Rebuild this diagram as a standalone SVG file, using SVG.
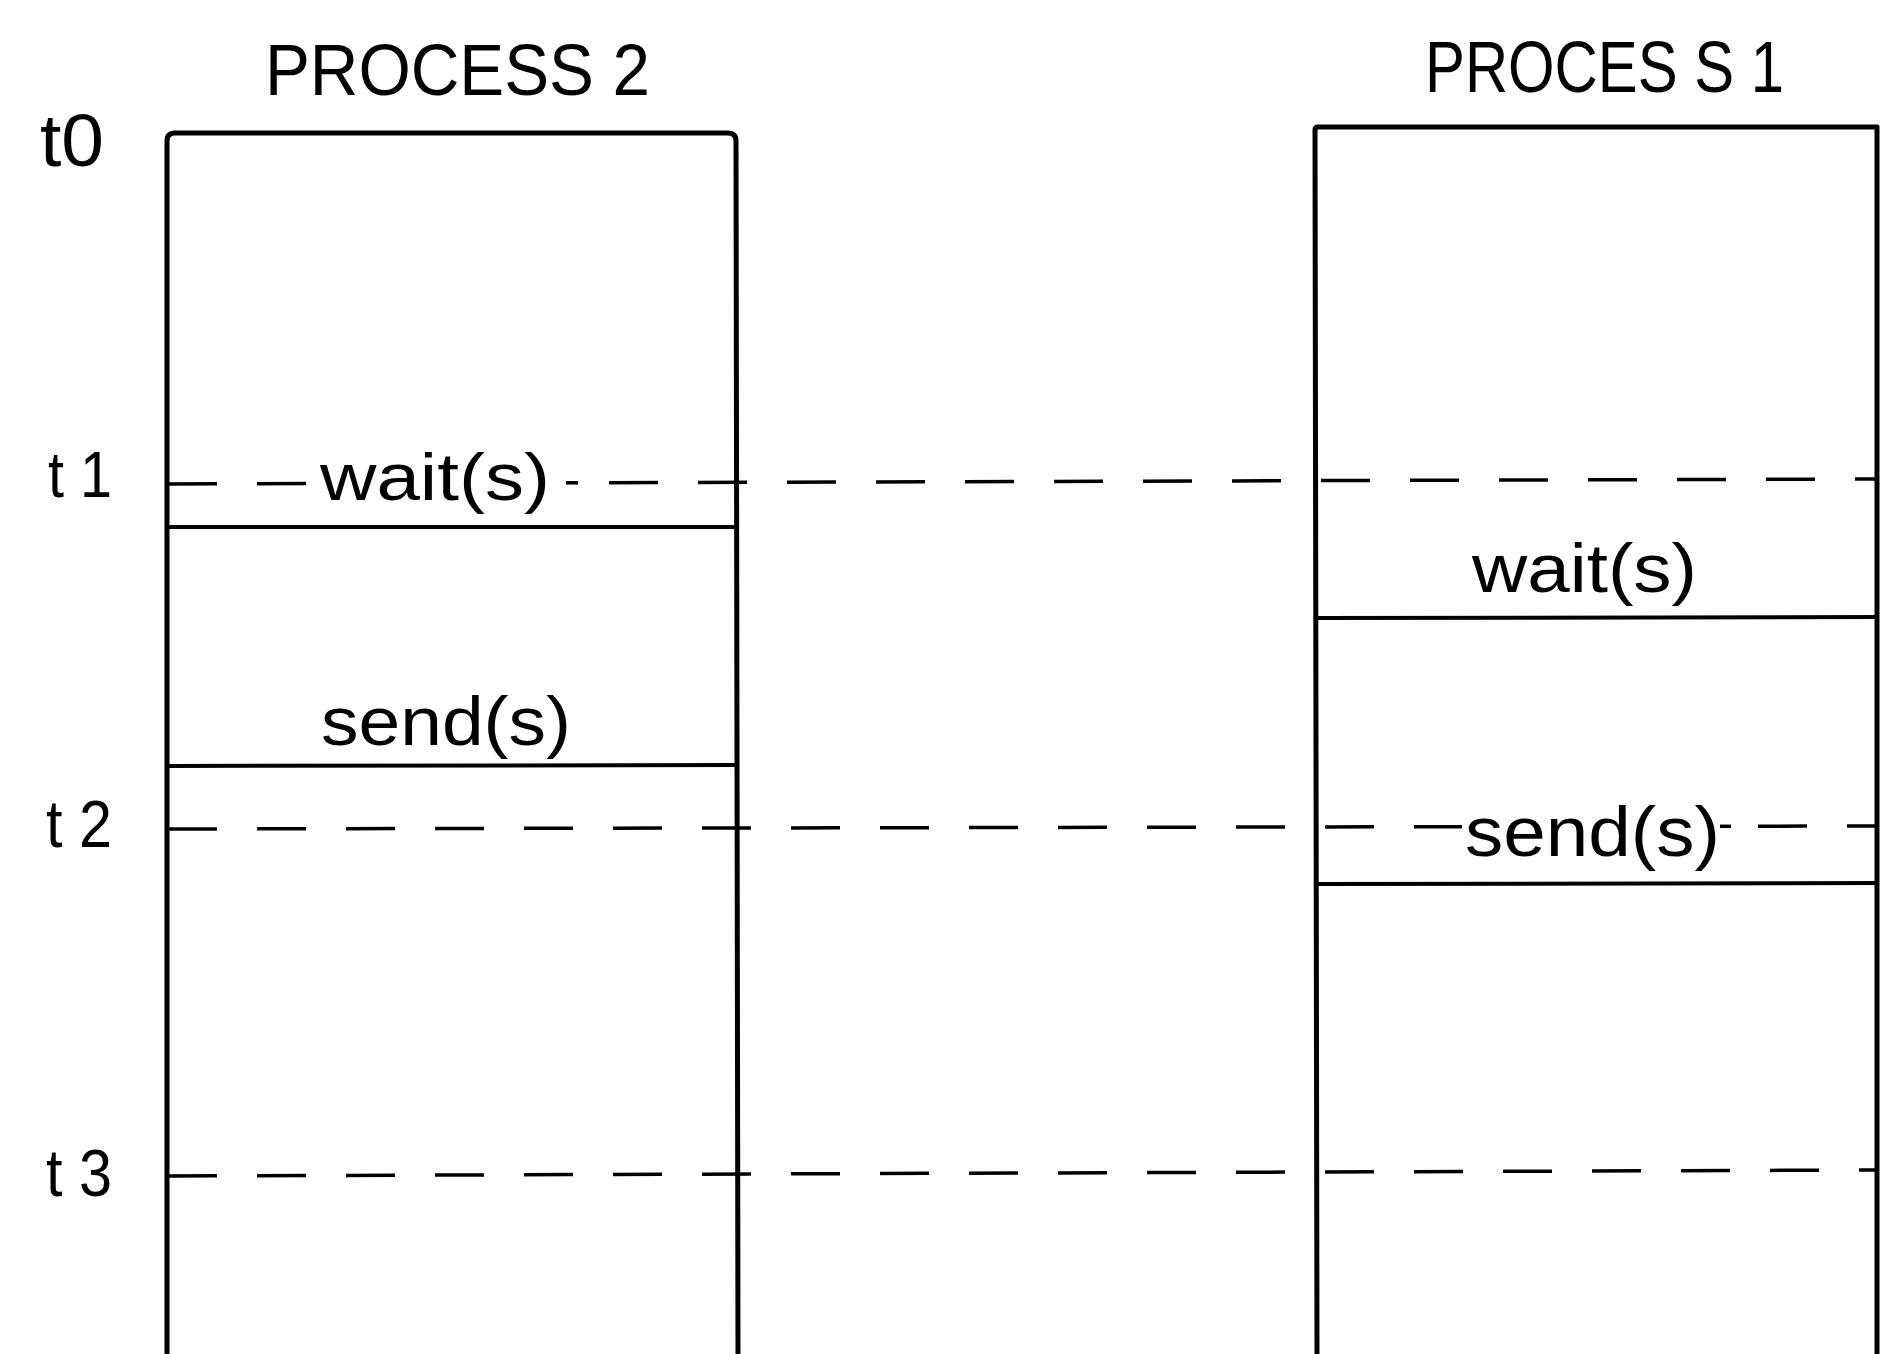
<svg xmlns="http://www.w3.org/2000/svg" width="1880" height="1354" viewBox="0 0 1880 1354">
  <style>
    .box { fill: none; stroke: #000; stroke-width: 5; stroke-linejoin: round; }
    .sep { stroke: #000; stroke-width: 4; fill: none; }
    .dash { stroke: #000; stroke-width: 3.5; fill: none; stroke-dasharray: 49 40; }
    .tick { stroke: #000; stroke-width: 3.5; fill: none; }
    .lbl { font-family: "Liberation Sans", Arial, sans-serif; fill: #000; }
  </style>
  <rect width="1880" height="1354" fill="#fff"/>

  <g id="connectors">
    <path class="dash" d="M168 484 L306 483.6"/>
    <path class="tick" d="M566 482.8 L578 482.8"/>
    <path class="dash" d="M609 482.7 L1878 479"/>
    <path class="dash" d="M168 829 L1462 826.7"/>
    <path class="tick" d="M1720 826.3 L1731 826.3"/>
    <path class="dash" d="M1758 826.2 L1878 826"/>
    <path class="dash" d="M168 1176 L1878 1170"/>
  </g>

  <g id="time-labels">
    <text class="lbl" x="40" y="166" font-size="74" textLength="64" lengthAdjust="spacingAndGlyphs">t0</text>
    <text class="lbl" x="48" y="497" font-size="64" textLength="64" lengthAdjust="spacingAndGlyphs">t 1</text>
    <text class="lbl" x="46" y="847" font-size="66" textLength="66" lengthAdjust="spacingAndGlyphs">t 2</text>
    <text class="lbl" x="46" y="1196" font-size="66" textLength="66" lengthAdjust="spacingAndGlyphs">t 3</text>
  </g>

  <g id="process2">
    <text class="lbl" x="265" y="95" font-size="72" textLength="385" lengthAdjust="spacingAndGlyphs">PROCESS 2</text>
    <path class="box" d="M167 1360 L167 141 Q167 133 175 133 L728 133 Q736 133 736 141 L738 1360"/>
    <line class="sep" x1="168" y1="527" x2="736" y2="527"/>
    <line class="sep" x1="168" y1="766" x2="737" y2="765"/>
    <text class="lbl" x="320" y="500" font-size="66" textLength="230" lengthAdjust="spacingAndGlyphs">wait(s)</text>
    <text class="lbl" x="321" y="745" font-size="68" textLength="250" lengthAdjust="spacingAndGlyphs">send(s)</text>
  </g>

  <g id="process1">
    <text class="lbl" x="1425" y="92" font-size="72" textLength="359" lengthAdjust="spacingAndGlyphs">PROCES S 1</text>
    <path class="box" d="M1317 1360 L1315 130 Q1315 127 1318 127 L1877 127 L1877 1360"/>
    <line class="sep" x1="1316" y1="618" x2="1878" y2="617"/>
    <line class="sep" x1="1317" y1="884" x2="1878" y2="883"/>
    <text class="lbl" x="1472" y="592" font-size="68" textLength="225" lengthAdjust="spacingAndGlyphs">wait(s)</text>
    <text class="lbl" x="1465" y="856" font-size="70" textLength="255" lengthAdjust="spacingAndGlyphs">send(s)</text>
  </g>
</svg>
